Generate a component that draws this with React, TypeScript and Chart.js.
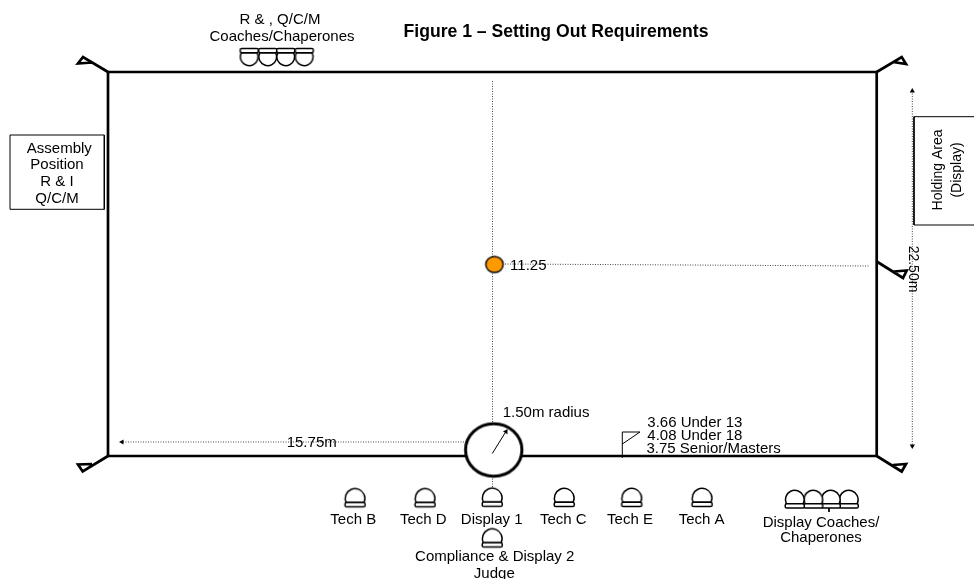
import React, { useEffect, useRef } from "react";
import { Chart, registerables } from "chart.js";

Chart.register(...registerables);

type P = [number, number];

// Field boundary and corner flags (diagram units, y down)
const fieldBoundary: P[] = [[108, 72], [876.7, 72], [876.7, 456], [108, 456], [108, 72]];
const flagTopLeft: P[] = [[108, 72], [83, 57], [78, 63.5], [92, 62.5]];
const flagTopRight: P[] = [[876.7, 72], [901.7, 57], [906, 64], [893, 62]];
const flagMidRight: P[] = [[876.7, 261.5], [903, 278], [906.7, 270.5], [894, 271.5]];
const flagBottomLeft: P[] = [[108, 456], [82.7, 471.5], [78, 464.5], [92, 464]];
const flagBottomRight: P[] = [[876.7, 456], [901.7, 471.5], [906, 464], [893, 465]];
const thickLines = [fieldBoundary, flagTopLeft, flagTopRight, flagMidRight, flagBottomLeft, flagBottomRight];

// Dotted measuring lines
const centreLine: P[] = [[492.5, 81], [492.5, 487]];
const halfWidthLine: P[] = [[505, 264], [870, 266]];
const sideLine: P[] = [[123, 442], [466, 442]];
const depthLine: P[] = [[912.3, 91], [912.3, 446]];
const dottedLines = [centreLine, halfWidthLine, sideLine, depthLine];

// Thin solid shapes
const radiusArrow: P[] = [[492.3, 453.5], [505, 433]];
const shortFlag: P[] = [[622.3, 458], [622.3, 432], [640, 432], [622.3, 444]];
const assemblyBox: P[] = [[10, 135], [104.3, 135], [104.3, 209.3], [10, 209.3], [10, 135]];
const holdingBox: P[] = [[974, 116.7], [914, 116.7], [914, 225], [974, 225]];
const coachesTick: P[] = [[829, 508], [829, 512]];
const thinLines = [radiusArrow, shortFlag, assemblyBox, holdingBox, coachesTick];

// Arrow heads: x, y, rotation
const arrowHeads: [number, number, number][] = [
  [122, 442, -90],
  [912.3, 91, 0],
  [912.3, 446, 180],
  [506, 431.5, 32],
];

// People
const officials: P[] = [
  [355.3, 497.8], [425.3, 497.8], [492.5, 497.3], [564.5, 497.5],
  [632, 497.5], [702.3, 497.5], [492.5, 538],
];
const displayCoaches: P[] = [[849, 499], [831, 499], [813.5, 499], [795, 499]];
const topCoaches: P[] = [[249, 57], [267.5, 57], [285.5, 57], [304, 57]];

// Centre marks
const throwingCircle: P[] = [[493.7, 450]];
const centreSpot: P[] = [[494.5, 264.5]];

// Text
type Label = [string, number, number];
const centredLabels: Label[] = [
  ["R & , Q/C/M", 280, 20],
  ["Coaches/Chaperones", 282, 36.5],
  ["Assembly", 59.3, 148.5],
  ["Position", 57, 164.5],
  ["R & I", 57, 182],
  ["Q/C/M", 57, 199],
  ["11.25", 528.3, 266],
  ["15.75m", 311.7, 442.5],
  ["Tech B", 353.3, 519.5],
  ["Tech D", 423.3, 519.5],
  ["Display 1", 491.7, 519.5],
  ["Tech C", 563.3, 519.5],
  ["Tech E", 630, 519.5],
  ["Tech A", 701.7, 519.5],
  ["Compliance & Display 2", 494.7, 557],
  ["Judge", 494.3, 574],
  ["Display Coaches/", 821, 522.5],
  ["Chaperones", 821, 538],
];
const leftLabels: Label[] = [
  ["1.50m radius", 502.7, 413],
  ["3.66 Under 13", 647.3, 423],
  ["4.08 Under 18", 647.3, 436],
  ["3.75 Senior/Masters", 646.5, 449],
];
const rotatedUpLabels: Label[] = [
  ["Holding Area", 938, 170],
  ["(Display)", 957.5, 170],
];
const rotatedDownLabels: Label[] = [["22.50m", 912.5, 269]];
const titleLabel: Label = ["Figure 1 \u2013 Setting Out Requirements", 556, 32];

const FONT = '"Liberation Sans", Arial, sans-serif';
const TEXT_SIZE = 15;
const ROTATED_SIZE = 14;
const TITLE_SIZE = 17.6;

function makeHead(w: number, h: number): HTMLCanvasElement {
  const c = document.createElement("canvas");
  c.width = Math.ceil(w) + 4;
  c.height = Math.ceil(h) + 4;
  const g = c.getContext("2d")!;
  g.translate(2, 2);
  const baseH = 4.2;
  const r = w / 2 - 0.4;
  g.lineWidth = 1.5;
  g.strokeStyle = "#000";
  g.fillStyle = "#fff";
  g.beginPath();
  const cy = r + 0.3;
  const a = Math.asin(Math.min(1, (h - baseH - cy) / r));
  g.arc(w / 2, cy, r, Math.PI - a, a);
  g.closePath();
  g.fill();
  g.stroke();
  g.beginPath();
  g.roundRect(0.2, h - baseH, w - 0.4, baseH, 1.6);
  g.fill();
  g.stroke();
  return c;
}

function makeEllipse(rx: number, ry: number, lw: number, fill: string): HTMLCanvasElement {
  const c = document.createElement("canvas");
  c.width = Math.ceil(2 * rx) + 6;
  c.height = Math.ceil(2 * ry) + 6;
  const g = c.getContext("2d")!;
  g.lineWidth = lw;
  g.strokeStyle = "#000";
  g.fillStyle = fill;
  g.beginPath();
  g.ellipse(c.width / 2, c.height / 2, rx, ry, 0, 0, 2 * Math.PI);
  g.fill();
  g.stroke();
  return c;
}

const toXY = (pts: P[]) => pts.map(([x, y]) => ({ x, y }));

const labelPlugin = {
  id: "diagramLabels",
  afterDraw(chart: any) {
    const { ctx, scales } = chart;
    const px = (x: number) => scales.x.getPixelForValue(x);
    const py = (y: number) => scales.y.getPixelForValue(y);
    ctx.save();
    ctx.fillStyle = "#000";
    ctx.textBaseline = "middle";
    ctx.font = `${TEXT_SIZE}px ${FONT}`;
    ctx.textAlign = "center";
    centredLabels.forEach(([t, x, y]) => ctx.fillText(t, px(x), py(y)));
    ctx.textAlign = "left";
    leftLabels.forEach(([t, x, y]) => ctx.fillText(t, px(x), py(y)));
    ctx.textAlign = "center";
    ctx.font = `${ROTATED_SIZE}px ${FONT}`;
    const rotated = (list: Label[], angle: number) =>
      list.forEach(([t, x, y]) => {
        ctx.save();
        ctx.translate(px(x), py(y));
        ctx.rotate(angle);
        ctx.fillText(t, 0, 0);
        ctx.restore();
      });
    rotated(rotatedUpLabels, -Math.PI / 2);
    rotated(rotatedDownLabels, Math.PI / 2);
    ctx.font = `bold ${TITLE_SIZE}px ${FONT}`;
    ctx.fillText(titleLabel[0], px(titleLabel[1]), py(titleLabel[2]));
    ctx.restore();
  },
};

export default function App() {
  const ref = useRef<HTMLCanvasElement>(null);

  useEffect(() => {
    const lineSet = (pts: P[], width: number, color: string, order: number, dash: number[] = []) => ({
      type: "scatter" as const,
      data: toXY(pts),
      showLine: true,
      pointRadius: 0,
      borderColor: color,
      borderWidth: width,
      borderDash: dash,
      borderJoinStyle: "miter" as const,
      order,
      clip: false as any,
    });
    const markerSet = (pts: P[], style: any, order: number, rotation = 0) => ({
      type: "scatter" as const,
      data: toXY(pts),
      showLine: false,
      pointStyle: style,
      pointRadius: 10,
      pointRotation: rotation,
      order,
      clip: false as any,
    });

    const chart = new Chart(ref.current!, {
      type: "scatter",
      data: {
        datasets: [
          ...dottedLines.map((l) => lineSet(l, 1, "#444", 6, [1, 1.5])),
          markerSet(throwingCircle, makeEllipse(28.2, 26.3, 3, "#fff"), 5),
          markerSet(centreSpot, makeEllipse(8.7, 8, 1.4, "#ff9900"), 4),
          ...thickLines.map((l) => lineSet(l, 2.7, "#000", 7)),
          ...thinLines.map((l) => lineSet(l, 1, "#000", 3)),
          {
            type: "scatter" as const,
            data: arrowHeads.map(([x, y]) => ({ x, y })),
            showLine: false,
            pointStyle: "triangle",
            pointRadius: 3,
            pointRotation: arrowHeads.map((a) => a[2]),
            backgroundColor: "#000",
            borderColor: "#000",
            borderWidth: 0,
            order: 2,
            clip: false as any,
          },
          markerSet(officials, makeHead(20.5, 18.5), 1),
          markerSet(displayCoaches, makeHead(19.5, 18), 1),
          markerSet(topCoaches, makeHead(18.5, 17.5), 1, 180),
        ] as any,
      },
      options: {
        animation: false,
        responsive: false,
        layout: { padding: 0, autoPadding: false },
        plugins: { legend: { display: false }, tooltip: { enabled: false } },
        scales: {
          x: { type: "linear", min: 0, max: 974, display: false },
          y: { type: "linear", min: 0, max: 579, reverse: true, display: false },
        },
      },
      plugins: [labelPlugin],
    });
    return () => chart.destroy();
  }, []);

  return (
    <div style={{ position: "fixed", left: 0, top: 0, width: 974, height: 579, background: "#fff" }}>
      <canvas ref={ref} width={974} height={579} style={{ display: "block" }} />
    </div>
  );
}
